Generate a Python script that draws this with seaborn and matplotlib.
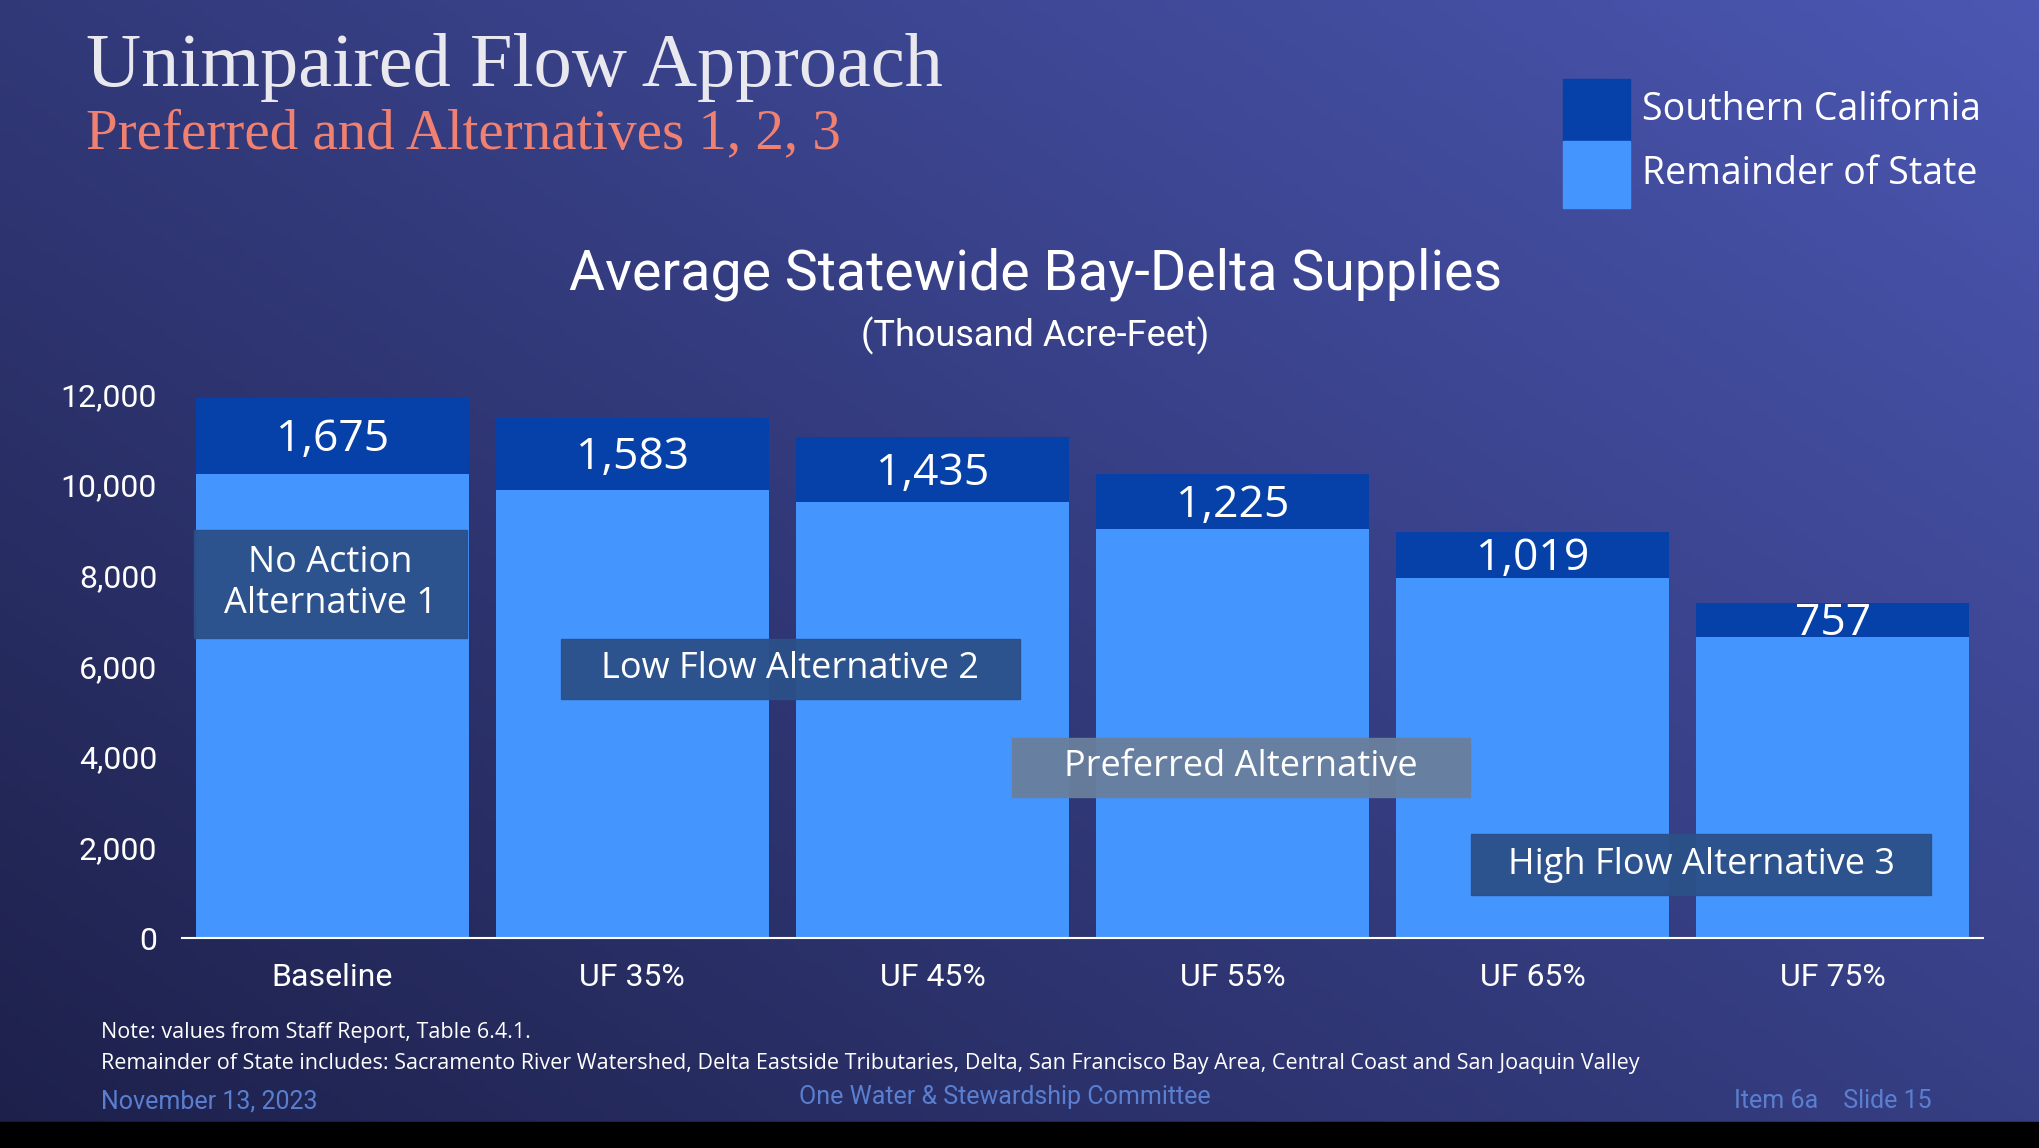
import numpy as np
import matplotlib
matplotlib.use("Agg")
import matplotlib.pyplot as plt
import seaborn as sns
from matplotlib.patches import Rectangle

sns.set_style("white")
plt.rcParams['font.family'] = ['Roboto', 'DejaVu Sans']

categories = ["Baseline", "UF 35%", "UF 45%", "UF 55%", "UF 65%", "UF 75%"]
remainder = [10240, 9900, 9620, 9020, 7940, 6650]
socal = [1675, 1583, 1435, 1225, 1019, 757]
yticks = [0, 2000, 4000, 6000, 8000, 10000, 12000]

W, H = 1568, 882
fig = plt.figure(figsize=(20.4, 11.48), dpi=100)

# background gradient
bg = fig.add_axes([0, 0, 1, 1], zorder=-10)
xx, yy = np.meshgrid(np.linspace(0, 1, 300), np.linspace(0, 1, 200))
t = 0.55 * xx + 0.45 * (1 - yy)
c0 = np.array([0x1d, 0x20, 0x4a]) / 255
c1 = np.array([0x4b, 0x57, 0xb2]) / 255
img = c0 + t[..., None] * (c1 - c0)
bg.imshow(img, extent=[0, 1, 0, 1], aspect='auto', origin='upper')
bg.add_patch(Rectangle((0, 0), 1, 1 - 862 / H, color='black'))
bg.set_xlim(0, 1); bg.set_ylim(0, 1); bg.axis('off')

def fx(px): return px / W
def fy(py): return 1 - py / H

ax = fig.add_axes([fx(140), fy(721), fx(1524) - fx(140), fy(303) - fy(721)])
ax.set_facecolor('none')
x = np.arange(len(categories))
sns.barplot(x=categories, y=remainder, color='#4595ff', width=0.91, saturation=1,
            edgecolor='none', linewidth=0, ax=ax)
ax.bar(x, socal, bottom=remainder, color='#0541a8', width=0.91, linewidth=0)
for i, (r, s) in enumerate(zip(remainder, socal)):
    ax.text(i, r + s / 2 - 80, f"{s:,}", ha='center', va='center', color='white',
            fontsize=32, family=['Open Sans', 'DejaVu Sans'])
ax.set_xlim(-0.5, 5.5)
ax.set_ylim(0, 12000)
ax.set_yticks(yticks)
ax.set_yticklabels([f"{v:,}" for v in yticks], color='white', fontsize=23)
ax.set_xticks(x)
ax.set_xticklabels(categories, color='white', fontsize=23)
ax.tick_params(length=0, pad=18)
for s in ['top', 'right', 'left']:
    ax.spines[s].set_visible(False)
ax.spines['bottom'].set_color('white')
ax.spines['bottom'].set_linewidth(1.5)

# annotation boxes
boxes = [
    (149, 407, 359, 490, '#2b5088', "No Action\nAlternative 1"),
    (431, 491, 784, 537, '#2b5088', "Low Flow Alternative 2"),
    (778, 567, 1130, 612, '#6a7f9c', "Preferred Alternative"),
    (1131, 641, 1484, 688, '#2b5088', "High Flow Alternative 3"),
]
for x0, y0, x1, y1, col, label in boxes:
    fig.patches.append(Rectangle((fx(x0), fy(y1)), fx(x1) - fx(x0), fy(y0) - fy(y1),
                                 transform=fig.transFigure, color=col, alpha=0.95, zorder=5))
    fig.text(fx((x0 + x1) / 2), fy((y0 + y1) / 2), label, ha='center', va='center',
             color='white', fontsize=26, zorder=6, linespacing=1.2,
             family=['Open Sans', 'DejaVu Sans'])

# titles
fig.text(fx(66), fy(52), "Unimpaired Flow Approach", color='#e8e8ee', fontsize=55,
         family=['Liberation Serif', 'DejaVu Serif'], va='center')
fig.text(fx(66), fy(103), "Preferred and Alternatives 1, 2, 3", color='#f08070', fontsize=41,
         family=['Liberation Serif', 'DejaVu Serif'], va='center')
fig.text(fx(796), fy(211), "Average Statewide Bay-Delta Supplies", color='white', fontsize=40,
         ha='center', va='center')
fig.text(fx(796), fy(258), "(Thousand Acre-Feet)", color='white', fontsize=26,
         ha='center', va='center')

# legend
for py0, py1, col, label in [(61, 108, '#0541a8', "Southern California"),
                             (108, 160, '#4595ff', "Remainder of State")]:
    fig.patches.append(Rectangle((fx(1201), fy(py1)), fx(1253) - fx(1201), fy(py0) - fy(py1),
                                 transform=fig.transFigure, color=col, zorder=5))
    fig.text(fx(1262), fy((py0 + py1) / 2), label, color='white', fontsize=27, va='center',
             family=['Open Sans', 'DejaVu Sans'])

# notes / footer
fig.text(fx(78), fy(793), "Note: values from Staff Report, Table 6.4.1.", color='white',
         fontsize=15.5, va='center', family=['Open Sans', 'DejaVu Sans'])
fig.text(fx(78), fy(817), "Remainder of State includes: Sacramento River Watershed, Delta Eastside Tributaries, "
         "Delta, San Francisco Bay Area, Central Coast and San Joaquin Valley", color='white',
         fontsize=15.5, va='center', family=['Open Sans', 'DejaVu Sans'])
fig.text(fx(78), fy(846), "November 13, 2023", color='#5a7fd0', fontsize=18, va='center')
fig.text(fx(772), fy(843), "One Water & Stewardship Committee", color='#5a7fd0', fontsize=18,
         va='center', ha='center')
fig.text(fx(1485), fy(846), "Item 6a    Slide 15", color='#5a7fd0', fontsize=18,
         va='center', ha='right')

fig.savefig("out.png", dpi=100)
